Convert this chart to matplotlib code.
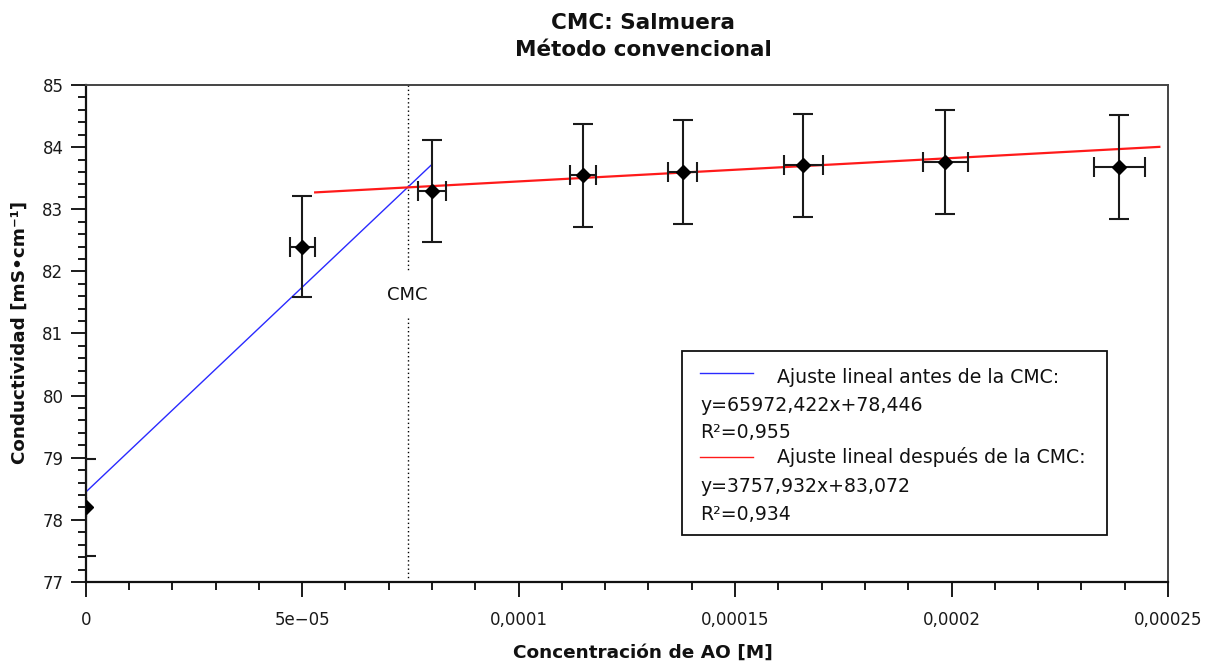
import matplotlib
matplotlib.use("Agg")
import matplotlib.pyplot as plt
from matplotlib.ticker import FixedLocator, MultipleLocator, NullFormatter
from matplotlib.patches import Rectangle, Polygon
from matplotlib.lines import Line2D
import numpy as np

# Measured points: surfactant concentration [M] vs conductivity [mS/cm]
conc = [0.0, 5.0e-5, 8.0e-5, 1.148e-4, 1.379e-4, 1.657e-4, 1.985e-4, 2.387e-4]
cond = [78.20, 82.40, 83.30, 83.55, 83.60, 83.71, 83.76, 83.68]
cond_err = [0.78, 0.82, 0.82, 0.83, 0.83, 0.83, 0.84, 0.84]
conc_err = [0.0, 2.9e-6, 3.3e-6, 3.0e-6, 3.3e-6, 4.5e-6, 5.2e-6, 5.9e-6]

# Linear fits (slope, intercept, R^2) and the x-span each is drawn over
slope_before, icpt_before, r2_before = 65972.422, 78.446, 0.955
slope_after, icpt_after, r2_after = 3757.932, 83.072, 0.934
span_before = [0.0, 8.0e-5]
span_after = [5.3e-5, 2.48e-4]

xtick_vals = [0.0, 5e-5, 1e-4, 1.5e-4, 2e-4, 2.5e-4]
xtick_labels = ["0", "5e\u221205", "0,0001", "0,00015", "0,0002", "0,00025"]
ytick_vals = [77, 78, 79, 80, 81, 82, 83, 84, 85]

plt.rcParams["font.family"] = ["DejaVu Sans"]

fig = plt.figure(figsize=(12.14, 6.64), dpi=100)
ax = fig.add_axes([0.0706, 0.1235, 0.8915, 0.7485])

# fitted lines
xb = np.array(span_before)
xa = np.array(span_after)
ax.plot(xb, slope_before * xb + icpt_before, color="#2a2aff", lw=1.0, zorder=3)
ax.plot(xa, slope_after * xa + icpt_after, color="#ff1a1a", lw=1.6, zorder=3)

# data with error bars
eb = ax.errorbar(conc, cond, yerr=cond_err, xerr=conc_err, fmt="D", color="black",
                 ms=7.5, ecolor="#1a1a1a", elinewidth=1.5, capsize=7, capthick=1.5,
                 zorder=4)

# clip the diamond markers exactly at the plot frame
frame = Polygon([[0, 0], [1, 0], [1, 1], [0, 1]], closed=True,
                transform=ax.transAxes)
eb.lines[0].set_clip_path(frame)

# CMC = intersection of the two fits
cmc = (icpt_after - icpt_before) / (slope_before - slope_after)
ax.plot([cmc, cmc], [85, 82.0], color="black", lw=1.0, ls=(0, (1, 2)), zorder=2)
ax.plot([cmc, cmc], [81.25, 77], color="black", lw=1.0, ls=(0, (1, 2)), zorder=2)
ax.text(cmc, 81.62, "CMC", ha="center", va="center", fontsize=13, color="#111")

ax.set_xlim(0, 2.5e-4)
ax.set_ylim(77, 85)

ax.xaxis.set_major_locator(FixedLocator(xtick_vals))
ax.set_xticklabels(xtick_labels)
ax.xaxis.set_minor_locator(MultipleLocator(1e-5))
ax.yaxis.set_major_locator(FixedLocator(ytick_vals))
ax.yaxis.set_minor_locator(MultipleLocator(0.2))
ax.yaxis.set_minor_formatter(NullFormatter())
ax.xaxis.set_minor_formatter(NullFormatter())

ax.tick_params(which="major", direction="out", length=11, width=1.4,
               labelsize=12, colors="#1a1a1a", pad=5)
ax.tick_params(which="minor", direction="out", length=6, width=1.4,
               colors="#1a1a1a")
ax.tick_params(axis="x", which="major", pad=10)

for s in ("left", "bottom"):
    ax.spines[s].set_linewidth(1.6)
    ax.spines[s].set_color("#111")
for s in ("top", "right"):
    ax.spines[s].set_linewidth(1.4)
    ax.spines[s].set_color("#444")

# legend box with fit equations
ax.add_patch(Rectangle((0.551, 0.0946), 0.393, 0.370, transform=ax.transAxes,
                       facecolor="white", edgecolor="#111", lw=1.3, zorder=5))
ax.add_line(Line2D([0.5676, 0.617], [0.420, 0.420], transform=ax.transAxes,
                   color="#2a2aff", lw=1.0, zorder=6))
ax.add_line(Line2D([0.5676, 0.617], [0.252, 0.252], transform=ax.transAxes,
                   color="#ff1a1a", lw=1.0, zorder=6))

def fmt(v):
    return f"{v:.3f}".replace(".", ",")

legend_lines = [
    (0.6385, 0.401, "Ajuste lineal antes de la CMC:"),
    (0.5676, 0.344, f"y={fmt(slope_before)}x+{fmt(icpt_before)}"),
    (0.5676, 0.289, f"R\u00b2={fmt(r2_before)}"),
    (0.6385, 0.239, "Ajuste lineal despu\u00e9s de la CMC:"),
    (0.5676, 0.1817, f"y={fmt(slope_after)}x+{fmt(icpt_after)}"),
    (0.5676, 0.1247, f"R\u00b2={fmt(r2_after)}"),
]
for x, y, s in legend_lines:
    ax.text(x, y, s, transform=ax.transAxes, fontsize=13.6, color="#111",
            ha="left", va="baseline", zorder=6)

fig.text(0.530, 0.966, "CMC: Salmuera", ha="center", va="center",
         fontsize=15.5, fontweight="bold", color="#111")
fig.text(0.530, 0.924, "M\u00e9todo convencional", ha="center", va="center",
         fontsize=15.5, fontweight="bold", color="#111")
fig.text(0.530, 0.0166, "Concentraci\u00f3n de AO [M]", ha="center", va="center",
         fontsize=13.3, fontweight="bold", color="#111")
fig.text(0.0165, 0.5, "Conductividad [mS\u2022cm\u207b\u00b9]", ha="center",
         va="center", rotation=90, fontsize=13.2, fontweight="bold", color="#111")

fig.savefig("out.png", dpi=100)
